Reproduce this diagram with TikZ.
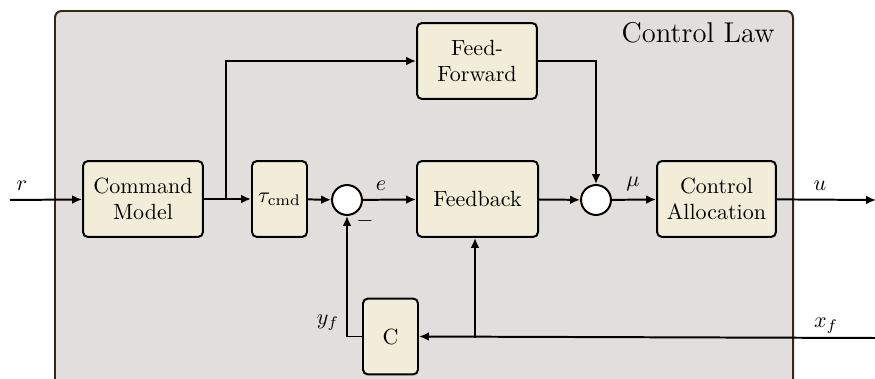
\documentclass[tikz,border=0pt]{standalone}
\usetikzlibrary{arrows.meta}
\definecolor{lawbg}{RGB}{226,222,220}
\definecolor{lawframe}{RGB}{52,40,22}
\definecolor{boxfill}{RGB}{242,237,216}
\begin{document}
\begin{tikzpicture}[x=0.4545pt,y=-0.4545pt,
  blk/.style={draw=black,line width=0.9pt,fill=boxfill,rounded corners=2.2pt,align=center,inner sep=0pt,
    minimum height=34.5pt},
  sumc/.style={draw=black,line width=0.9pt,fill=white,circle,inner sep=0pt,minimum size=13.6pt},
  conn/.style={line width=0.9pt,-{Latex[length=4.5pt,width=4pt]}},
  lbl/.style={inner sep=0pt}]
\useasboundingbox (0,0) rectangle (875,379);
\draw[lawframe,line width=0.9pt,fill=lawbg,rounded corners=3pt] (55,11) rectangle (793,420);
\node[lbl,anchor=north east,font=\fontsize{13}{15}\selectfont] (title) at (775,22) {Control Law};

\node[blk,minimum width=54.5pt] (cm) at (143,199) {Command\\Model};
\node[blk,minimum width=25pt] (tau) at (279.5,199) {$\tau_{\mathrm{cmd}}$};
\node[sumc] (s1) at (347,200) {};
\node[blk,minimum width=55pt] (fb) at (477.5,199) {Feedback};
\node[sumc] (s2) at (596,200) {};
\node[blk,minimum width=54pt] (ca) at (716.5,199) {Control\\Allocation};
\node[blk,minimum width=54.5pt] (ff) at (477,61) {Feed-\\Forward};
\node[blk,minimum width=25pt] (c) at (390.5,336.5) {C};

\coordinate (rin) at (10,200);
\coordinate (uout) at (876,200);
\coordinate (xin) at (876,338);
\coordinate (br) at (226,200);
\coordinate (fbr) at (475,338);

\draw[conn] (rin) -- (cm);
\draw[conn] (cm) -- (tau);
\draw[conn] (br) |- (ff.west);
\draw[conn] (tau) -- (s1);
\draw[conn] (s1) -- (fb);
\draw[conn] (fb) -- (s2);
\draw[conn] (ff.east) -| (s2.north);
\draw[conn] (s2) -- (ca);
\draw[conn] (ca) -- (uout);
\draw[conn] (xin) -- (c.east);
\draw[conn] (fbr) -- (fb.south -| fbr);
\draw[conn] (c.west) -| (s1.south);

\node[lbl] (lr) at (22,186) {$r$};
\node[lbl] (le) at (381,186) {$e$};
\node[lbl] (lmu) at (633,184) {$\mu$};
\node[lbl] (lu) at (820,186) {$u$};
\node[lbl] (lyf) at (328,323) {$y_f$};
\node[lbl] (lxf) at (826,326) {$x_f$};
\node[lbl] (lminus) at (365,221) {$-$};
\end{tikzpicture}
\end{document}
